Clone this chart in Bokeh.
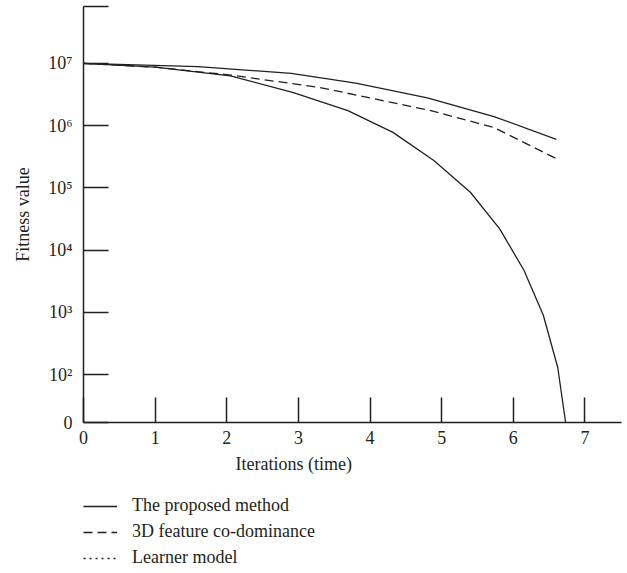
from bokeh.plotting import figure
from bokeh.layouts import column
from bokeh.models import Range1d, FixedTicker, Legend, LegendItem, Title
from bokeh.embed import file_html
from bokeh.resources import INLINE

# ---- data ----
proposed_x = [0, 1, 2.05, 2.93, 3.69, 4.32, 4.89, 5.4, 5.81, 6.15, 6.42, 6.62, 6.73]
proposed_y = [1.0e7, 8.7e6, 6.3e6, 3.4e6, 1.74e6, 7.8e5, 2.75e5, 8.5e4, 2.2e4, 4.7e3, 890, 130, 17]

codom_x = [0, 1, 2.05, 3.3, 4.85, 5.73, 6.6]
codom_y = [1.0e7, 8.7e6, 6.5e6, 4.1e6, 1.74e6, 9.3e5, 2.95e5]

learner_x = [0, 1.6, 2.9, 3.8, 4.8, 5.73, 6.6]
learner_y = [1.0e7, 8.9e6, 6.9e6, 4.8e6, 2.8e6, 1.4e6, 6.0e5]

x_ticks = [0, 1, 2, 3, 4, 5, 6, 7]
y_ticks = [17, 100, 1000, 10000, 100000, 1000000, 10000000, 82000000]
y_tick_labels = ["0", "10²", "10³", "10⁴", "10⁵", "10⁶", "10⁷", ""]
legend_labels = ["The proposed method", "3D feature co-dominance", "Learner model"]

FONT = "Liberation Serif"
FS = "18px"
INK = "#231f20"
NAN = float("nan")

p = figure(width=626, height=488, x_range=Range1d(0, 7.51), y_range=Range1d(17, 82000000),
           y_axis_type="log", output_backend="svg", toolbar_location=None,
           min_border_left=83, min_border_top=6, min_border_right=5, min_border_bottom=66)
p.outline_line_color = None
p.grid.visible = False

p.line(proposed_x, proposed_y, line_color=INK, line_width=1.3)
p.line(codom_x, codom_y, line_color=INK, line_width=1.3, line_dash="9 5")
p.line(learner_x, learner_y, line_color=INK, line_width=1.3)

for ax in (p.xaxis[0], p.yaxis[0]):
    ax.axis_line_color = INK
    ax.axis_line_width = 1.5
    ax.major_tick_line_color = INK
    ax.major_tick_line_width = 1.5
    ax.major_tick_in = 25
    ax.major_tick_out = 0
    ax.minor_tick_line_color = None
    ax.major_label_text_font = FONT
    ax.major_label_text_font_size = FS
    ax.major_label_text_color = INK

p.xaxis[0].ticker = FixedTicker(ticks=x_ticks)
p.xaxis[0].major_label_standoff = 8
p.yaxis[0].ticker = FixedTicker(ticks=y_ticks)
p.yaxis[0].major_label_overrides = {t: l for t, l in zip(y_ticks, y_tick_labels)}
p.yaxis[0].major_label_standoff = 11
p.yaxis[0].axis_label = "Fitness value"
p.yaxis[0].axis_label_text_font = FONT
p.yaxis[0].axis_label_text_font_size = FS
p.yaxis[0].axis_label_text_font_style = "normal"
p.yaxis[0].axis_label_text_color = INK
p.yaxis[0].axis_label_standoff = 12

xt = Title(text="Iterations (time)", align="left", offset=152, text_font=FONT,
           text_font_size=FS, text_font_style="normal", text_color=INK, standoff=10)
p.add_layout(xt, "below")

# ---- legend strip below the chart ----
lg = figure(width=626, height=82, x_range=Range1d(0, 1), y_range=Range1d(0, 1),
            output_backend="svg", toolbar_location=None,
            x_axis_location=None, y_axis_location=None,
            min_border_left=83, min_border_right=5, min_border_top=0, min_border_bottom=0)
lg.outline_line_color = None
lg.grid.visible = False
g1 = lg.line([NAN], [NAN], line_color=INK, line_width=1.3)
g2 = lg.line([NAN], [NAN], line_color=INK, line_width=1.3, line_dash="9 5")
g3 = lg.line([NAN], [NAN], line_color=INK, line_width=1.3, line_dash="2 4")

legend = Legend(items=[LegendItem(label=legend_labels[0], renderers=[g1]),
                       LegendItem(label=legend_labels[1], renderers=[g2]),
                       LegendItem(label=legend_labels[2], renderers=[g3])],
                location=(0, 2), orientation="vertical")
legend.border_line_color = None
legend.background_fill_alpha = 0
legend.margin = 0
legend.padding = 0
legend.glyph_width = 34
legend.glyph_height = 20
legend.label_height = 20
legend.spacing = 5
legend.label_standoff = 15
legend.label_text_font = FONT
legend.label_text_font_size = FS
legend.label_text_color = INK
legend.label_text_baseline = "middle"
lg.add_layout(legend, "center")

layout = column(p, lg, spacing=0)
open("out.html", "w").write(file_html(layout, INLINE))
